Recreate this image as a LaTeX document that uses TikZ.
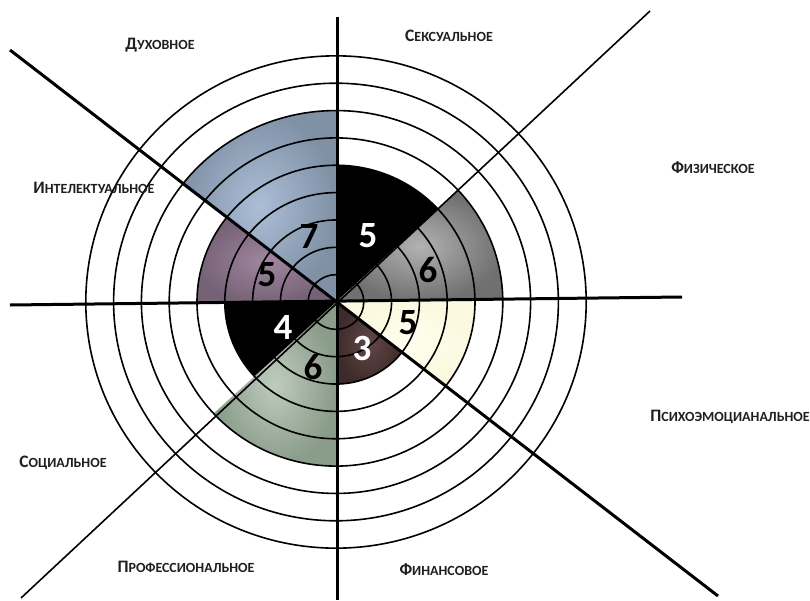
\documentclass[tikz,border=0pt]{standalone}
\usepackage{fontspec}
\setmainfont{Carlito}
% small caps made by hand: big first letter, smaller rest
\newcommand{\sclabel}[2]{{\fontsize{17.5}{17.5}\selectfont #1}{\fontsize{14}{14}\selectfont #2}}
\begin{document}
\begin{tikzpicture}[x=1pt,y=1pt,
        ring/.style={line width=1.6pt},
        spoke/.style={line width=3pt},
        thinspoke/.style={line width=1.6pt},
        score/.style={font=\bfseries\fontsize{37}{37}\selectfont, inner sep=0pt},
        area/.style={font=\bfseries, text=black!88, inner sep=0pt}]
        % Define colors
        \definecolor{bluein}{RGB}{172,190,214}
        \definecolor{blueout}{RGB}{128,145,166}
        \definecolor{mauvein}{RGB}{160,135,160}
        \definecolor{mauveout}{RGB}{118,98,118}
        \definecolor{greyin}{RGB}{178,178,178}
        \definecolor{greyout}{RGB}{112,112,112}
        \definecolor{creamin}{RGB}{255,255,240}
        \definecolor{creamout}{RGB}{250,248,222}
        \definecolor{brownin}{RGB}{98,72,72}
        \definecolor{brownout}{RGB}{62,42,42}
        \definecolor{greenin}{RGB}{190,204,190}
        \definecolor{greenout}{RGB}{138,156,138}

        \useasboundingbox (-336,-298) rectangle (474,302);
        \coordinate (O) at (0,0);

        % Draw sectors (start angle / end angle / score / colors)
        \foreach \a/\b/\n/\ci/\co in {42.8/90/5/black/black, 0.7/42.8/6/greyin/greyout,
                -37.6/0.7/5/creamin/creamout, -90/-37.6/3/brownin/brownout,
                222.8/270/6/greenin/greenout, 180.7/222.8/4/black/black,
                142.3/180.7/5/mauvein/mauveout, 90/142.3/7/bluein/blueout}{
            \pgfmathsetmacro\rx{27.8*\n}
            \pgfmathsetmacro\ry{27.35*\n}
            \shade[inner color=\ci, outer color=\co] (O) -- (\a:{\rx} and {\ry})
                arc[start angle=\a, end angle=\b, x radius=\rx, y radius=\ry] -- cycle;
        }

        % Draw rings
        \foreach \k in {1,...,9}
            \draw[ring] (O) ellipse[x radius=27.8*\k, y radius=27.35*\k];

        % Draw spokes
        \coordinate (N) at (1,285);
        \coordinate (S) at (1,-298);
        \coordinate (W) at (-326,-3);
        \coordinate (E) at (346,5);
        \coordinate (NE) at (314,291);
        \coordinate (SW) at (-315,-296);
        \coordinate (NW) at (-326,252);
        \coordinate (SE) at (382,-294);
        \draw[spoke] (N) -- (S);
        \draw[spoke] (W) -- (E);
        \draw[spoke] (NW) -- (SE);
        \draw[thinspoke] (NE) -- (SW);

        % Scores
        \node[score, text=white] (sexscore) at (32,66) {5};
        \node[score] (physscore) at (92,32) {6};
        \node[score] (psyscore) at (72,-21) {5};
        \node[score, text=white] (finscore) at (26,-46) {3};
        \node[score] (profscore) at (-23,-65) {6};
        \node[score, text=white] (socscore) at (-53,-25) {4};
        \node[score] (intscore) at (-69,27) {5};
        \node[score] (spirscore) at (-27,65) {7};

        % Label areas
        \node[area] (spir) at (-176,257) {\sclabel{Д}{УХОВНОЕ}};
        \node[area] (sex) at (113,266) {\sclabel{С}{ЕКСУАЛЬНОЕ}};
        \node[area] (phys) at (377,134) {\sclabel{Ф}{ИЗИЧЕСКОЕ}};
        \node[area] (psy) at (394,-115) {\sclabel{П}{СИХОЭМОЦИАНАЛЬНОЕ}};
        \node[area] (fin) at (108,-268) {\sclabel{Ф}{ИНАНСОВОЕ}};
        \node[area] (prof) at (-150,-265) {\sclabel{П}{РОФЕССИОНАЛЬНОЕ}};
        \node[area] (soc) at (-273,-161) {\sclabel{С}{ОЦИАЛЬНОЕ}};
        \node[area] (int) at (-242,114) {\sclabel{И}{НТЕЛЕКТУАЛЬНОЕ}};
    \end{tikzpicture}
\end{document}
